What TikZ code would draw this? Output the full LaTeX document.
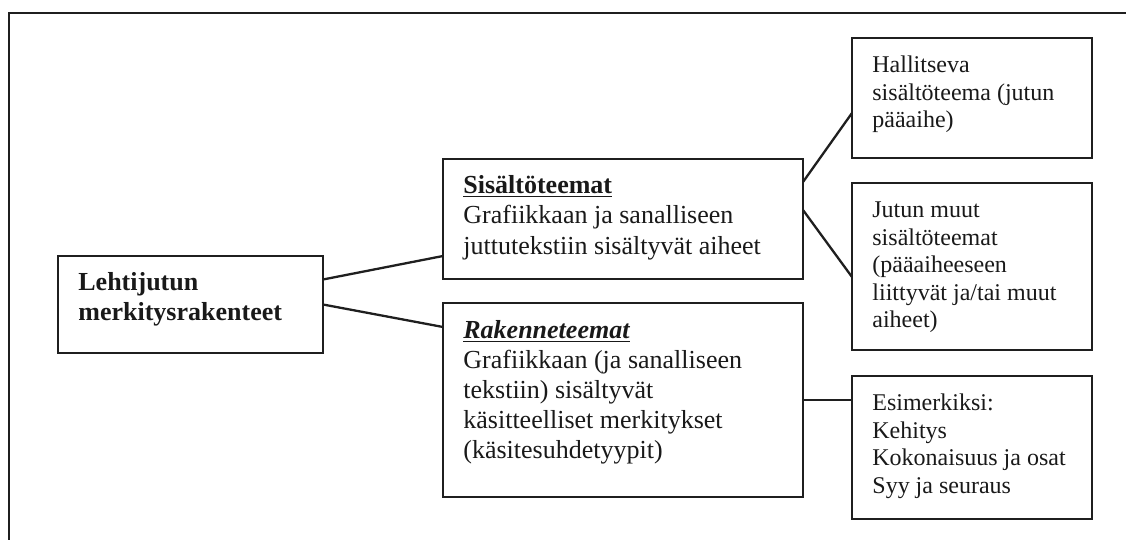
\documentclass[tikz,border=0pt]{standalone}
\usepackage{fontspec}
\setmainfont{Liberation Serif}
\usetikzlibrary{calc,fit}

\tikzset{
  box/.style={draw=black!88, line width=1.3pt, inner sep=0pt, outer sep=0pt, rectangle},
  link/.style={draw=black!88, line width=1.15pt},
  frame/.style={draw=black!88, line width=1.3pt},
  txt/.style={anchor=north west, inner sep=0pt, align=left, text=black!90},
  bigtxt/.style={txt, font=\fontsize{13}{15}\selectfont},
  midtxt/.style={txt, font=\fontsize{13}{15.25}\selectfont},
  smalltxt/.style={txt, font=\fontsize{12}{13.8}\selectfont}
}

\begin{document}
\begin{tikzpicture}[x=0.5pt,y=-0.5pt]
  \useasboundingbox (0,0) rectangle (1126,540);

  % surrounding frame (open towards the right and the bottom)
  \draw[frame] (9,540) -- (9,13) -- (1126,13);

  % boxes
  \node[box, fit={(58,256) (323,353)}] (main) {};
  \node[box, fit={(443,159) (803,279)}] (sis) {};
  \node[box, fit={(443,303) (803,497)}] (rak) {};
  \node[box, fit={(852,38) (1092,158)}] (hal) {};
  \node[box, fit={(852,183) (1092,350)}] (jut) {};
  \node[box, fit={(852,376) (1092,519)}] (esim) {};

  % box texts
  \node[bigtxt] (maintxt) at ($(main.north west)+(20,13)$)
    {\strut\textbf{Lehtijutun}\\\textbf{merkitysrakenteet}};
  \node[midtxt] (sistxt) at ($(sis.north west)+(20,12.5)$)
    {\strut\underline{\textbf{Sisältöteemat}}\\Grafiikkaan ja sanalliseen\\juttutekstiin sisältyvät aiheet};
  \node[bigtxt] (raktxt) at ($(rak.north west)+(20,14)$)
    {\strut\underline{\textbf{\textit{Rakenneteemat}}}\\Grafiikkaan (ja sanalliseen\\tekstiin) sisältyvät\\käsitteelliset merkitykset\\(käsitesuhdetyypit)};
  \node[smalltxt] (haltxt) at ($(hal.north west)+(20,14.7)$)
    {\strut Hallitseva\\sisältöteema (jutun\\pääaihe)};
  \node[smalltxt] (juttxt) at ($(jut.north west)+(20,14.7)$)
    {\strut Jutun muut\\sisältöteemat\\(pääaiheeseen\\liittyvät ja/tai muut\\aiheet)};
  \node[smalltxt] (esimtxt) at ($(esim.north west)+(20,14.7)$)
    {\strut Esimerkiksi:\\Kehitys\\Kokonaisuus ja osat\\Syy ja seuraus};

  % connectors
  \draw[link] ($(main.east)+(0,-25)$) -- ($(sis.west)+(0,37)$);
  \draw[link] (main.east) -- ($(rak.west)+(0,-73)$);
  \draw[link] ($(sis.east)+(0,-37)$) -- ($(hal.west)+(0,15)$);
  \draw[link] ($(sis.east)+(0,-9)$) -- ($(jut.west)+(0,10.5)$);
  \draw[link] (rak.east) -- (rak.east -| esim.west);
\end{tikzpicture}
\end{document}
